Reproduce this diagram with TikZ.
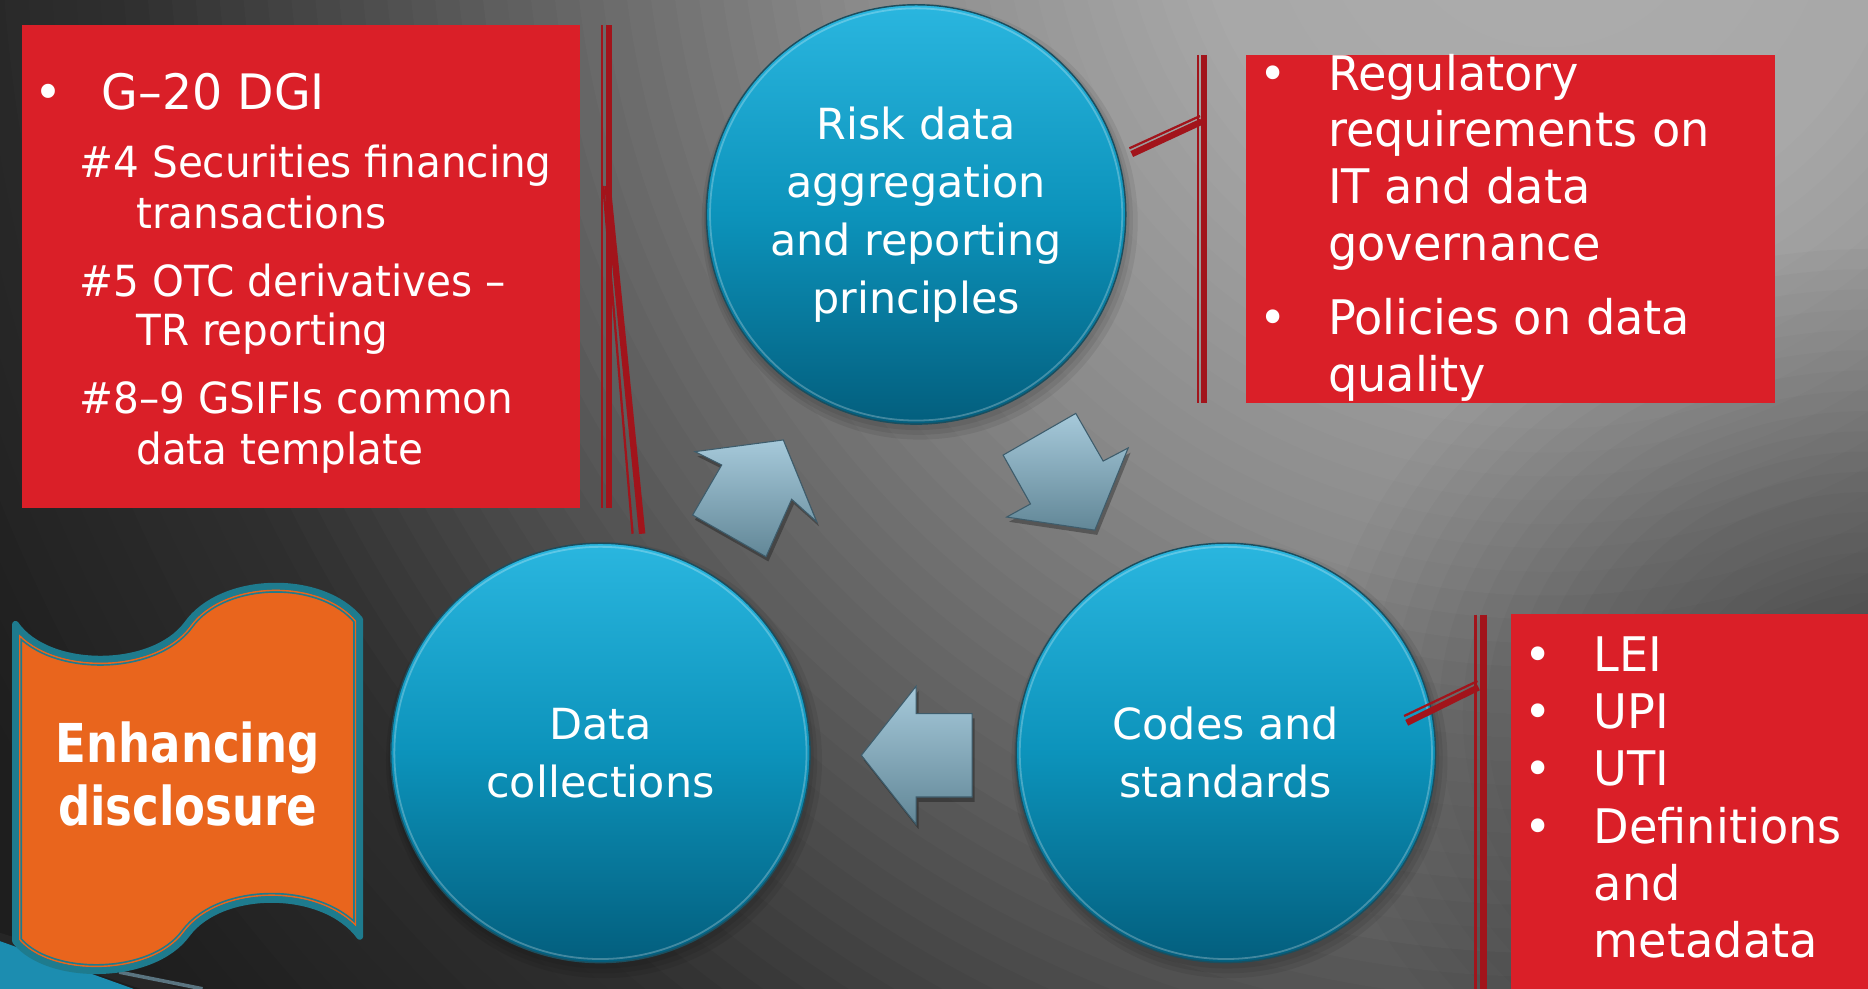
\documentclass[tikz,border=0pt]{standalone}
\usepackage{fontspec}
\setmainfont{DejaVu Sans}
\newfontfamily\ballfont{DejaVu Sans}
\newfontfamily\boxfont{DejaVu Sans}[FakeStretch=0.97]
\newfontfamily\boxAfont{DejaVu Sans}[FakeStretch=0.945]
\newfontfamily\scrollfont{DejaVu Sans}[FakeStretch=0.84]
\usetikzlibrary{calc}
\definecolor{boxred}{HTML}{DA1F28}
\definecolor{barred}{HTML}{A2141B}
\definecolor{ballTop}{HTML}{2AB6DF}
\definecolor{ballMid}{HTML}{0C93BB}
\definecolor{ballBot}{HTML}{035E7D}
\definecolor{ballLine}{HTML}{1B4E5E}
\definecolor{arrTop}{HTML}{A6C9DA}
\definecolor{arrBot}{HTML}{628797}
\definecolor{arrLine}{HTML}{3E5C6B}
\definecolor{scrollOrange}{HTML}{E9651D}
\definecolor{scrollTeal}{HTML}{1E7B8E}
\definecolor{cornerTeal}{HTML}{1C8DB0}
\definecolor{slate}{HTML}{5A7480}
\def\scrollpath{(13,524) .. controls (40,563) and (128,563) .. (157,524) .. controls (186,483) and (270,481) .. (302,520) -- (302,786) .. controls (272,745) and (186,745) .. (157,784) .. controls (128,824) and (40,824) .. (13,790) -- cycle}
\def\arrowA{(583.4,379.1) -- (657.5,369.3) -- (685.5,437.9) -- (664.5,419.1) -- (643,467.3) -- (581.4,432.3) -- (605.8,390.3) -- cycle}
\def\arrowB{(842,382) -- (903,347) -- (926,387) -- (947,376) -- (919,445) -- (845,434) -- (865,423) -- cycle}
\def\arrowC{(723,634) -- (769,576) -- (769,599) -- (816,599) -- (816,669) -- (769,669) -- (769,692) -- cycle}
\begin{document}
\begin{tikzpicture}[x=1pt,y=-1pt,
 ball/.style={circle, minimum size=352pt, inner sep=0pt, draw=ballLine, line width=1.2pt, top color=ballTop, bottom color=ballBot, middle color=ballMid, text=white, align=center, font=\ballfont\fontsize{36}{48.7}\selectfont},
 redbox/.style={fill=boxred, draw=none, anchor=north west, inner sep=0pt},
 boxtxt/.style={text=white, inner sep=0pt, anchor=base west, font=\boxfont\fontsize{40}{48}\selectfont},
 boxbul/.style={text=white, inner sep=0pt, anchor=base, font=\boxfont\fontsize{40}{48}\selectfont},
 subtxt/.style={boxtxt, font=\boxAfont\fontsize{36}{44}\selectfont},
 thinbar/.style={draw=barred, line width=1.9pt},
 thickbar/.style={draw=barred, line width=5.4pt},
 blockarrow/.style={top color=arrTop, bottom color=arrBot, draw=arrLine, line width=0.9pt},
 arrowshadow/.style={fill=black, opacity=0.3},
 ballshadow/.style={fill=black, opacity=0.07},
]
\useasboundingbox (0,0) rectangle (1568,830);
% background
\begin{scope}
\clip (0,0) rectangle (1568,830);
\fill[black!88] (0,0) rectangle (1568,830);
\foreach \r in {1600,1580,...,20}{
  \pgfmathsetmacro\q{\r/300}
  \pgfmathtruncatemacro\v{\q<1 ? 174-6*\q : (\q<2 ? 168-30*(\q-1) : (\q<3 ? 138-44*(\q-2) : (\q<4 ? 94-46*(\q-3) : max(30, 48-18*(\q-4)))))}
  \fill[fill={rgb,255:red,\v;green,\v;blue,\v}] (1300,-100) circle (\r pt);
}
\foreach \r in {460,440,...,20}{
  \fill[black, opacity=0.02] (1568,600) ellipse ({\r pt} and {0.85*\r pt});
}
% bottom-left corner decoration
\fill[black!85] (0,783) -- (152,830) -- (118,830) -- (0,790) -- cycle;
\fill[cornerTeal] (0,790) -- (112,830) -- (0,830) -- cycle;
\draw[slate, line width=3pt] (100,816) -- (170,830);
\end{scope}

% red boxes
\node[redbox, minimum width=469pt, minimum height=405pt] (boxA) at (18,21) {};
\node[redbox, minimum width=444pt, minimum height=292pt] (boxB) at (1046,46) {};
\node[redbox, minimum width=301pt, minimum height=315pt] (boxC) at (1268,515) {};

% box A text
\node[boxbul, font=\boxfont\fontsize{41}{48}\selectfont] (a0) at (40.5,92) {•};
\node[boxtxt, font=\boxfont\fontsize{41}{48}\selectfont] (a1) at (85.4,92) {G–20 DGI};
\node[subtxt] (a2) at (66.7,149) {\#4 Securities financing};
\node[subtxt] (a3) at (114.3,192) {transactions};
\node[subtxt] (a4) at (66.7,248.5) {\#5 OTC derivatives –};
\node[subtxt] (a5) at (114.3,290.4) {TR reporting};
\node[subtxt] (a6) at (66.7,346.8) {\#8–9 GSIFIs common};
\node[subtxt] (a7) at (114.3,390) {data template};

% box B text
\node[boxbul] (b0) at (1069,75.6) {•};
\node[boxtxt] (b1) at (1114.6,75.6) {Regulatory};
\node[boxtxt] (b2) at (1114.6,123.2) {requirements on};
\node[boxtxt] (b3) at (1114.6,170.8) {IT and data};
\node[boxtxt] (b4) at (1114.6,218.4) {governance};
\node[boxbul] (b5) at (1069,280.6) {•};
\node[boxtxt] (b6) at (1114.6,280.6) {Policies on data};
\node[boxtxt] (b7) at (1114.6,328.2) {quality};

% box C text
\node[boxbul] (c0) at (1291.4,564) {•};
\node[boxtxt] (c1) at (1337.6,564) {LEI};
\node[boxbul] (c2) at (1291.4,611.5) {•};
\node[boxtxt] (c3) at (1337.6,611.5) {UPI};
\node[boxbul] (c4) at (1291.4,659) {•};
\node[boxtxt] (c5) at (1337.6,659) {UTI};
\node[boxbul] (c6) at (1291.4,708) {•};
\node[boxtxt] (c7) at (1337.6,708) {Definitions};
\node[boxtxt] (c8) at (1337.6,756) {and};
\node[boxtxt] (c9) at (1337.6,804) {metadata};

% circle shadows
\foreach \cx/\cy in {769/180, 504/632, 1029/632}{
  \fill[ballshadow] (\cx+3,\cy+6) circle (183pt);
  \fill[ballshadow] (\cx+2,\cy+5) circle (180pt);
  \fill[ballshadow] (\cx+1,\cy+3) circle (178pt);
}
% circles
\node[ball] (risk) at (769,180) {Risk data\\aggregation\\and reporting\\principles};
\node[ball] (coll) at (504,632) {Data\\collections};
\node[ball] (codes) at (1029,632) {Codes and\\standards};
\foreach \n in {risk,coll,codes}{
  \draw[white, opacity=0.25, line width=1.5pt] (\n.center) circle (173pt);
}

% bars and connectors
\coordinate (lt1) at (505.5,21); \coordinate (lb1) at (505.5,426);
\coordinate (lt2) at (511,21);   \coordinate (lb2) at (511,426);
\draw[thinbar] (lt1) -- (lb1);
\draw[thickbar] (lt2) -- (lb2);
\coordinate (ls1) at (506.4,156); \coordinate (le1) at (531,448);
\coordinate (ls2) at (510,156);   \coordinate (le2) at (539,448);
\draw[thinbar] (ls1) -- (le1);
\draw[thickbar] (ls2) -- (le2);

\coordinate (rt1) at (1005.3,46); \coordinate (rb1) at (1005.3,338);
\coordinate (rt2) at (1010.8,46); \coordinate (rb2) at (1010.8,338);
\draw[thinbar] (rt1) -- (rb1);
\draw[thickbar] (rt2) -- (rb2);
\coordinate (rs1) at (948,124.5); \coordinate (re1) at (1007.3,97.4);
\coordinate (rs2) at (950,129.3); \coordinate (re2) at (1008.7,102.1);
\draw[thinbar] (rs1) -- (re1);
\draw[thickbar] (rs2) -- (re2);

\coordinate (dt1) at (1238.5,516); \coordinate (db1) at (1238.5,830);
\coordinate (dt2) at (1245.4,516); \coordinate (db2) at (1245.4,830);
\draw[thinbar] (dt1) -- (db1);
\draw[thickbar] (dt2) -- (db2);
\coordinate (ds1) at (1178.6,601); \coordinate (de1) at (1240.2,571.7);
\coordinate (ds2) at (1180.8,606.7); \coordinate (de2) at (1241,577);
\draw[thinbar] (ds1) -- (de1);
\draw[thickbar] (ds2) -- (de2);

% block arrows
\begin{scope}[shift={(2,4)}]
\fill[arrowshadow] \arrowA;
\fill[arrowshadow] \arrowB;
\fill[arrowshadow] \arrowC;
\end{scope}
\path[blockarrow] \arrowA;
\path[blockarrow] \arrowB;
\path[blockarrow] \arrowC;

% scroll
\fill[scrollOrange] \scrollpath;
\begin{scope}
\clip \scrollpath;
\draw[scrollTeal, line width=11.2pt] \scrollpath;
\draw[scrollOrange, line width=8.4pt] \scrollpath;
\draw[scrollTeal, line width=5.6pt] \scrollpath;
\end{scope}
\draw[scrollTeal, line width=5.6pt, line join=round, line cap=round] \scrollpath;
\node[text=white, align=center, inner sep=0pt, font=\scrollfont\bfseries\fontsize{45}{53}\selectfont] (enh) at (157.5,650) {Enhancing\\disclosure};
\end{tikzpicture}
\end{document}
